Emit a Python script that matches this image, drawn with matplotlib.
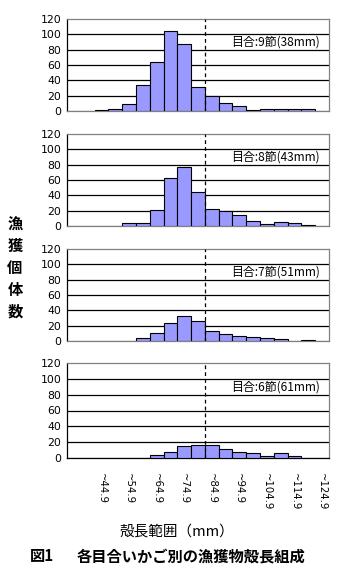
import matplotlib
matplotlib.use("Agg")
import matplotlib.pyplot as plt
import numpy as np

# categories (upper bound of shell-length bins, mm)
categories = ["~34.9", "~39.9", "~44.9", "~49.9", "~54.9", "~59.9", "~64.9", "~69.9",
              "~74.9", "~79.9", "~84.9", "~89.9", "~94.9", "~99.9", "~104.9", "~109.9",
              "~114.9", "~119.9", "~124.9"]
shown_labels = ["~44.9", "~54.9", "~64.9", "~74.9", "~84.9", "~94.9", "~104.9", "~114.9", "~124.9"]

mesh_labels = ["目合:9節(38mm)", "目合:8節(43mm)", "目合:7節(51mm)", "目合:6節(61mm)"]

counts_9 = [0, 0, 1, 3, 9, 34, 64, 104, 87, 31, 19, 10, 6, 1, 2, 2, 2, 2, 0]
counts_8 = [0, 0, 0, 0, 4, 4, 21, 62, 77, 45, 22, 19, 15, 6, 3, 5, 4, 1, 0]
counts_7 = [0, 0, 0, 0, 0, 4, 11, 23, 32, 26, 13, 9, 7, 5, 4, 3, 0, 1, 0]
counts_6 = [0, 0, 0, 0, 0, 0, 4, 8, 15, 17, 17, 11, 7, 6, 3, 6, 3, 0, 0]
all_counts = [counts_9, counts_8, counts_7, counts_6]

mesh_line_pos = 9.5  # boundary between ~79.9 and ~84.9

plt.rcParams['font.family'] = ['Noto Sans CJK JP', 'DejaVu Sans']

W, H = 353, 583
fig = plt.figure(figsize=(W / 100, H / 100), dpi=100)

panels_px = [(19, 111), (134, 226), (249, 341), (363, 458)]
left_px, right_px = 67, 329

x = np.arange(len(categories))
for k, (top, bot) in enumerate(panels_px):
    ax = fig.add_axes([left_px / W, 1 - bot / H, (right_px - left_px) / W, (bot - top) / H])
    ax.bar(x, all_counts[k], width=1.0, color="#9999FF", edgecolor="black", linewidth=0.8, zorder=3)
    ax.set_xlim(-0.5, len(categories) - 0.5)
    ax.set_ylim(0, 120)
    ax.set_yticks([0, 20, 40, 60, 80, 100, 120])
    ax.set_yticklabels(["0", "20", "40", "60", "80", "100", "120"], fontsize=7.8,
                       family=["DejaVu Sans"])
    for v in [20, 40, 60, 80, 100]:
        ax.axhline(v, color="black", lw=0.9, zorder=1)
    ax.axvline(mesh_line_pos, color="black", lw=0.9, ls=(0, (3, 2.5)), zorder=4)
    ax.tick_params(axis="y", length=0, pad=4)
    for s in ["top", "right"]:
        ax.spines[s].set_color("#808080")
        ax.spines[s].set_linewidth(0.9)
    ax.spines["left"].set_color("black")
    ax.spines["left"].set_linewidth(0.9)
    ax.spines["bottom"].set_color("black" if k == 3 else "#808080")
    ax.spines["bottom"].set_linewidth(0.9)
    ax.text(0.965, 0.745, mesh_labels[k], transform=ax.transAxes, ha="right", va="center",
            fontsize=8.6, zorder=5)
    if k == 3:
        idx = [categories.index(l) for l in shown_labels]
        ax.set_xticks(idx)
        ax.set_xticklabels(shown_labels, rotation=-90, fontsize=7.3, va="top", ha="center",
                           family=["DejaVu Sans"])
        ax.tick_params(axis="x", length=0, pad=11)
    else:
        ax.set_xticks([])

fig.text(15 / W, 1 - 268 / H, "漁\n獲\n個\n体\n数", ha="center", va="center",
         fontsize=11, linespacing=1.45, fontweight="bold")
fig.text(177 / W, 1 - 532 / H, "殻長範囲（mm）", ha="center", va="center", fontsize=10.5)
fig.text(30 / W, 1 - 556 / H, "図1", ha="left", va="center", fontsize=11, fontweight="bold")
fig.text(77 / W, 1 - 556 / H, "各目合いかご別の漁獲物殻長組成", ha="left", va="center",
         fontsize=11, fontweight="bold")

fig.savefig("out.png", dpi=100)
